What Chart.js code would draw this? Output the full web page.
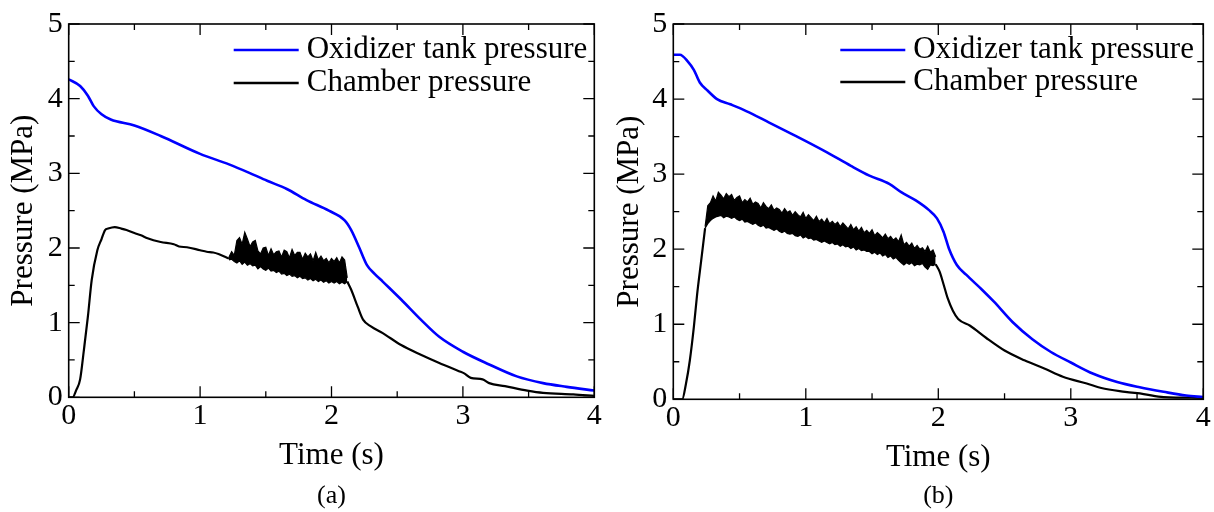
<!DOCTYPE html>
<html>
<head>
<meta charset="utf-8">
<script src="https://cdn.jsdelivr.net/npm/chart.js@4/dist/chart.umd.min.js"></script>
<style>
  html, body { margin: 0; padding: 0; background: #fff; }
  #wrap { position: relative; width: 1214px; height: 512px; overflow: hidden; }
  .panel { position: absolute; top: 0; width: 607px; height: 512px; }
  #pa { left: 0; }
  #pb { left: 607px; }
</style>
</head>
<body>
<div id="wrap">
  <div class="panel" id="pa"><canvas id="ca" width="607" height="512"></canvas></div>
  <div class="panel" id="pb"><canvas id="cb" width="607" height="512"></canvas></div>
</div>
<script>
// ---------------- labels ----------------
const seriesNames = ['Oxidizer tank pressure', 'Chamber pressure'];
const xTitle = 'Time (s)';
const yTitle = 'Pressure (MPa)';
const captions = ['(a)', '(b)'];
const xTickLabels = ['0', '1', '2', '3', '4'];
const yTickLabels = ['0', '1', '2', '3', '4', '5'];

// ---------------- panel (a) ----------------
const oxTimeA = [0, 0.087, 0.146, 0.19, 0.25, 0.32, 0.5, 0.7, 1.0, 1.22, 1.37, 1.51, 1.66, 1.81, 1.98, 2.10, 2.15, 2.21, 2.27, 2.33, 2.39, 2.46, 2.53, 2.68, 2.82, 3.0, 3.2, 3.41, 3.61, 3.79, 4.0];
const oxPresA = [4.26, 4.17, 4.04, 3.90, 3.79, 3.72, 3.64, 3.50, 3.26, 3.12, 3.01, 2.90, 2.79, 2.64, 2.50, 2.37, 2.24, 2.01, 1.77, 1.65, 1.55, 1.43, 1.31, 1.04, 0.81, 0.61, 0.44, 0.28, 0.19, 0.14, 0.09];

// null marks the stretch drawn by the noisy band
const chTimeA = [0, 0.03, 0.058, 0.087, 0.116, 0.146, 0.175, 0.218, 0.25, 0.277, 0.30, 0.35, 0.40, 0.44, 0.50, 0.55, 0.60, 0.70, 0.80, 0.84, 0.90, 1.00, 1.05, 1.10, 1.14, 1.22,
                 1.60, 2.12, 2.15, 2.20, 2.24, 2.30, 2.39, 2.53, 2.68, 2.82, 2.97, 3.01, 3.06, 3.15, 3.20, 3.32, 3.49, 3.61, 3.84, 4.0];
const chPresA = [0, 0, 0.10, 0.24, 0.64, 1.08, 1.57, 1.97, 2.12, 2.24, 2.26, 2.28, 2.26, 2.24, 2.20, 2.17, 2.13, 2.08, 2.05, 2.02, 2.01, 1.97, 1.95, 1.94, 1.92, 1.86,
                 null, 1.55, 1.44, 1.21, 1.04, 0.95, 0.86, 0.70, 0.57, 0.46, 0.35, 0.32, 0.26, 0.24, 0.19, 0.15, 0.09, 0.06, 0.04, 0.02];

const bandTimeA = [1.22, 1.24, 1.26, 1.28, 1.30, 1.32, 1.34, 1.36, 1.38, 1.40, 1.42, 1.44, 1.46, 1.48, 1.50, 1.52, 1.54, 1.56, 1.58, 1.60, 1.62, 1.64, 1.66, 1.68, 1.70, 1.72, 1.74, 1.76, 1.78, 1.80, 1.82, 1.84, 1.86, 1.88, 1.90, 1.92, 1.94, 1.96, 1.98, 2.00, 2.02, 2.04, 2.06, 2.08, 2.10, 2.12];
const bandHighA = [1.88, 1.95, 1.90, 2.10, 2.14, 2.05, 2.21, 2.12, 2.02, 2.08, 2.10, 1.96, 1.92, 2.00, 2.01, 1.90, 1.99, 1.91, 1.95, 1.96, 1.88, 1.97, 1.95, 1.87, 1.98, 1.90, 1.94, 1.94, 1.85, 1.93, 1.88, 1.92, 1.83, 1.94, 1.84, 1.89, 1.83, 1.86, 1.80, 1.86, 1.82, 1.87, 1.80, 1.88, 1.84, 1.60];
const bandLowA  = [1.84, 1.85, 1.82, 1.80, 1.83, 1.78, 1.81, 1.77, 1.79, 1.76, 1.77, 1.72, 1.75, 1.72, 1.70, 1.73, 1.69, 1.70, 1.67, 1.69, 1.65, 1.66, 1.63, 1.65, 1.62, 1.63, 1.60, 1.62, 1.59, 1.60, 1.57, 1.59, 1.56, 1.58, 1.55, 1.57, 1.54, 1.56, 1.53, 1.55, 1.53, 1.55, 1.52, 1.54, 1.52, 1.55];

// ---------------- panel (b) ----------------
const oxTimeB = [0, 0.05, 0.11, 0.155, 0.20, 0.26, 0.33, 0.43, 0.55, 0.72, 0.90, 1.0, 1.16, 1.34, 1.48, 1.63, 1.72, 1.83, 1.93, 1.99, 2.04, 2.08, 2.14, 2.21, 2.33, 2.42, 2.56, 2.71, 2.85, 3.0, 3.17, 3.35, 3.52, 3.70, 3.87, 4.0];
const oxPresB = [4.59, 4.59, 4.50, 4.39, 4.22, 4.11, 4.00, 3.93, 3.84, 3.69, 3.53, 3.44, 3.29, 3.11, 2.98, 2.87, 2.76, 2.65, 2.52, 2.41, 2.23, 2.01, 1.79, 1.66, 1.46, 1.30, 1.03, 0.80, 0.63, 0.49, 0.34, 0.23, 0.16, 0.10, 0.05, 0.03];

const chTimeB = [0, 0.067, 0.096, 0.125, 0.155, 0.18, 0.21, 0.24,
                 1.00, 1.98, 2.01, 2.04, 2.07, 2.11, 2.15, 2.24, 2.36, 2.50, 2.65, 2.80, 2.94, 3.12, 3.23, 3.41, 3.55, 3.70, 4.0];
const chPresB = [0, 0, 0.21, 0.52, 0.96, 1.40, 1.84, 2.28,
                 null, 1.80, 1.70, 1.53, 1.35, 1.18, 1.07, 0.98, 0.82, 0.65, 0.52, 0.41, 0.30, 0.21, 0.15, 0.10, 0.07, 0.03, 0.02];

const bandTimeB = [0.24, 0.26, 0.28, 0.30, 0.32, 0.34, 0.36, 0.38, 0.40, 0.42, 0.44, 0.46, 0.48, 0.50, 0.52, 0.54, 0.56, 0.58, 0.60, 0.62, 0.64, 0.66, 0.68, 0.70, 0.72, 0.74, 0.76, 0.78, 0.80, 0.82, 0.84, 0.86, 0.88, 0.90, 0.92, 0.94, 0.96, 0.98,
                   1.00, 1.02, 1.04, 1.06, 1.08, 1.10, 1.12, 1.14, 1.16, 1.18, 1.20, 1.22, 1.24, 1.26, 1.28, 1.30, 1.32, 1.34, 1.36, 1.38, 1.40, 1.42, 1.44, 1.46, 1.48, 1.50, 1.52, 1.54, 1.56, 1.58, 1.60, 1.62, 1.64, 1.66, 1.68, 1.70, 1.72, 1.74, 1.76, 1.78, 1.80, 1.82, 1.84, 1.86, 1.88, 1.90, 1.92, 1.94, 1.96, 1.98];
const bandHighB = [2.30, 2.58, 2.62, 2.71, 2.64, 2.76, 2.72, 2.67, 2.74, 2.70, 2.73, 2.65, 2.69, 2.71, 2.62, 2.66, 2.63, 2.68, 2.60, 2.63, 2.61, 2.55, 2.62, 2.57, 2.54, 2.59, 2.52, 2.55, 2.53, 2.48, 2.54, 2.49, 2.51, 2.45, 2.50, 2.46, 2.43, 2.49,
                   2.41, 2.46, 2.42, 2.38, 2.44, 2.37, 2.40, 2.35, 2.41, 2.34, 2.37, 2.33, 2.36, 2.30, 2.35, 2.31, 2.27, 2.33, 2.26, 2.30, 2.24, 2.29, 2.22, 2.25, 2.21, 2.26, 2.18, 2.22, 2.19, 2.15, 2.20, 2.14, 2.17, 2.12, 2.15, 2.10, 2.19, 2.06, 2.09, 2.04, 2.08, 2.01, 2.05, 2.00, 2.02, 1.97, 2.04, 1.96, 1.99, 1.90];
const bandLowB  = [2.28, 2.34, 2.38, 2.41, 2.43, 2.44, 2.45, 2.42, 2.44, 2.43, 2.41, 2.43, 2.40, 2.38, 2.40, 2.36, 2.37, 2.35, 2.33, 2.35, 2.32, 2.30, 2.32, 2.28, 2.29, 2.27, 2.25, 2.27, 2.24, 2.22, 2.24, 2.21, 2.20, 2.21, 2.18, 2.17, 2.19, 2.15,
                   2.17, 2.14, 2.15, 2.12, 2.13, 2.11, 2.09, 2.11, 2.09, 2.07, 2.09, 2.06, 2.07, 2.04, 2.06, 2.03, 2.04, 2.01, 2.03, 1.99, 2.01, 1.98, 1.99, 1.97, 1.97, 1.94, 1.96, 1.93, 1.95, 1.91, 1.93, 1.89, 1.91, 1.87, 1.89, 1.85, 1.82, 1.79, 1.82, 1.80, 1.82, 1.78, 1.80, 1.79, 1.81, 1.76, 1.73, 1.79, 1.78, 1.80];

// ---------------- styling ----------------
const FONT = "'Liberation Serif', 'Times New Roman', serif";
const BLUE = '#0000ff';
const BLACK = '#000000';

function pts(ts, ps) { return ts.map((t, i) => ({ x: t, y: ps[i] })); }
function isInt(v) { return Math.abs(v - Math.round(v)) < 1e-6; }

const framePlugin = {
  id: 'frameAndLegend',
  afterDatasetsDraw(chart, args, opts) {
    const { ctx, chartArea: a, scales: { x, y } } = chart;
    ctx.save();
    ctx.strokeStyle = BLACK;
    ctx.lineWidth = 1.6;
    ctx.strokeRect(a.left, a.top, a.right - a.left, a.bottom - a.top);
    ctx.lineWidth = 1.3;
    ctx.beginPath();
    x.ticks.forEach(t => {
      const px = x.getPixelForValue(t.value);
      const len = isInt(t.value) ? 11 : 6;
      ctx.moveTo(px, a.bottom); ctx.lineTo(px, a.bottom - len);
      ctx.moveTo(px, a.top); ctx.lineTo(px, a.top + len);
    });
    y.ticks.forEach(t => {
      const py = y.getPixelForValue(t.value);
      const len = isInt(t.value) ? 11 : 6;
      ctx.moveTo(a.left, py); ctx.lineTo(a.left + len, py);
      ctx.moveTo(a.right, py); ctx.lineTo(a.right - len, py);
    });
    ctx.stroke();

    // legend (inside plot, upper right)
    ctx.font = '31px ' + FONT;
    ctx.textBaseline = 'middle';
    ctx.textAlign = 'left';
    ctx.fillStyle = BLACK;
    let row = 0;
    chart.data.datasets.forEach(ds => {
      if (!ds.inLegend) return;
      const yy = a.top + opts.rowTop + row * opts.rowGap;
      ctx.strokeStyle = ds.borderColor;
      ctx.lineWidth = 2.6;
      ctx.beginPath();
      ctx.moveTo(a.left + opts.lineX0, yy);
      ctx.lineTo(a.left + opts.lineX1, yy);
      ctx.stroke();
      ctx.fillText(ds.label, a.left + opts.textX, yy);
      row++;
    });
    ctx.restore();
  }
};

function makePanel(id, cfg) {
  const datasets = [
    { label: seriesNames[0], data: pts(cfg.oxT, cfg.oxP), borderColor: BLUE, borderWidth: 2.6,
      pointRadius: 0, cubicInterpolationMode: 'monotone', fill: false, inLegend: true },
    { label: seriesNames[1], data: pts(cfg.chT, cfg.chP), borderColor: BLACK, borderWidth: 2.2,
      pointRadius: 0, cubicInterpolationMode: 'monotone', spanGaps: false, fill: false, inLegend: true },
    { label: 'band-low', data: pts(cfg.bT, cfg.bL), borderColor: BLACK, borderWidth: 1.2,
      pointRadius: 0, fill: false, inLegend: false },
    { label: 'band-high', data: pts(cfg.bT, cfg.bH), borderColor: BLACK, borderWidth: 1.2,
      pointRadius: 0, fill: '-1', backgroundColor: BLACK, inLegend: false }
  ];
  return new Chart(document.getElementById(id), {
    type: 'line',
    data: { datasets },
    plugins: [framePlugin],
    options: {
      responsive: false,
      animation: false,
      events: [],
      layout: { padding: { left: 0, right: cfg.padRight, top: cfg.padTop, bottom: 0 } },
      plugins: {
        legend: { display: false },
        tooltip: { enabled: false },
        title: {
          display: true, text: cfg.caption, position: 'bottom', fullSize: false,
          color: BLACK, font: { family: FONT, size: 26, weight: 'normal' },
          padding: { top: 0, bottom: 0 }
        },
        frameAndLegend: { rowTop: cfg.legTop, rowGap: cfg.legGap, lineX0: cfg.legX0, lineX1: cfg.legX1, textX: cfg.legTX }
      },
      scales: {
        x: {
          type: 'linear', min: 0, max: 4,
          afterFit(s) { s.height = cfg.xHeight; },
          grid: { display: false, drawTicks: false },
          border: { display: false },
          ticks: {
            stepSize: 0.5, autoSkip: false, maxRotation: 0, padding: 1, color: BLACK,
            font: { family: FONT, size: 30 },
            callback: v => isInt(v) ? xTickLabels[Math.round(v)] : ''
          },
          title: { display: true, text: xTitle, color: BLACK, font: { family: FONT, size: 31 },
                   padding: { top: 0, bottom: cfg.xTitlePad } }
        },
        y: {
          type: 'linear', min: 0, max: 5,
          afterFit(s) { s.width = cfg.yWidth; },
          grid: { display: false, drawTicks: false },
          border: { display: false },
          ticks: {
            stepSize: 0.5, autoSkip: false, padding: 6, color: BLACK,
            font: { family: FONT, size: 30 },
            callback: v => isInt(v) ? yTickLabels[Math.round(v)] : ''
          },
          title: { display: true, text: yTitle, color: BLACK, font: { family: FONT, size: 31 },
                   padding: { top: cfg.yTitlePad, bottom: 0 } }
        }
      }
    }
  });
}

makePanel('ca', {
  oxT: oxTimeA, oxP: oxPresA, chT: chTimeA, chP: chPresA, bT: bandTimeA, bH: bandHighA, bL: bandLowA,
  caption: captions[0], padRight: 12.7, padTop: 22, xHeight: 83.5, yWidth: 68.7, xTitlePad: 6, yTitlePad: 5,
  legTop: 26, legGap: 33, legX0: 165, legX1: 230, legTX: 238
});
makePanel('cb', {
  oxT: oxTimeB, oxP: oxPresB, chT: chTimeB, chP: chPresB, bT: bandTimeB, bH: bandHighB, bL: bandLowB,
  caption: captions[1], padRight: 10.7, padTop: 22, xHeight: 81.5, yWidth: 66.3, xTitlePad: 4, yTitlePad: 4,
  legTop: 26, legGap: 32, legX0: 167, legX1: 232, legTX: 240
});
</script>
</body>
</html>
